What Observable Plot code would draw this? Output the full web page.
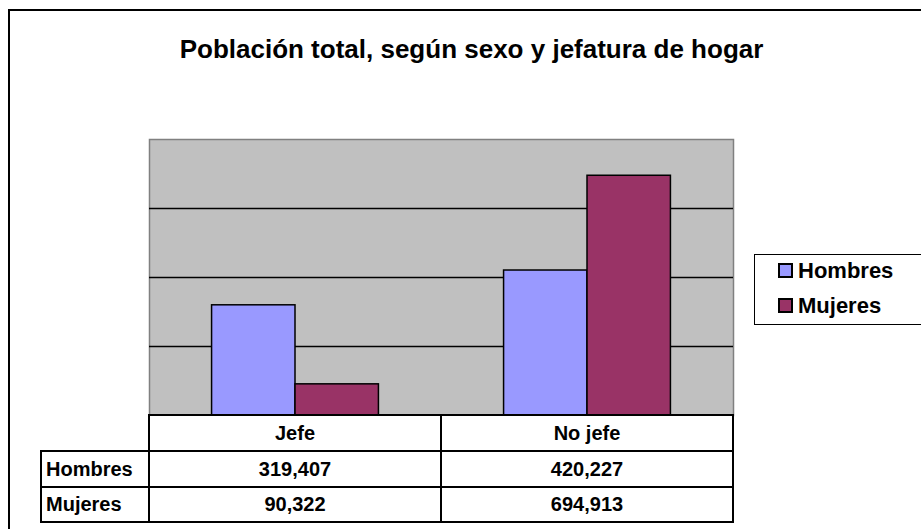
<!DOCTYPE html>
<html><head><meta charset="utf-8">
<script src="https://cdn.jsdelivr.net/npm/d3@7"></script>
<script src="https://cdn.jsdelivr.net/npm/@observablehq/plot@0.6"></script>
<style>
html,body{margin:0;padding:0;background:#fff;}
#chart{position:relative;width:921px;height:529px;overflow:hidden;font-family:"Liberation Sans",Arial,sans-serif;font-weight:bold;color:#000;}
#chart svg{position:absolute;left:0;top:0;}
.abs{position:absolute;}
.cell{position:absolute;box-sizing:border-box;border:2px solid #000;background:#fff;display:flex;align-items:center;justify-content:center;font-size:20px;white-space:nowrap;}
.cell.lab{justify-content:flex-start;padding-left:4px;}
</style></head><body><div id="chart"></div>
<script>
const title = "Población total, según sexo y jefatura de hogar";
const categories = ["Jefe", "No jefe"];
const series = ["Hombres", "Mujeres"];
const hombres = [319407, 420227];
const mujeres = [90322, 694913];
const colors = ["#9999FF", "#993366"];
const gridTicks = [200000, 400000, 600000];
const yMax = 800000;

const values = {Hombres: hombres, Mujeres: mujeres};
const rows = categories.flatMap((c, i) => series.map(s => ({category: c, sex: s, value: values[s][i]})));

const W = 921, H = 529, mL = 149, mR = 188, mT = 139, mB = 114;
const bw = (W - mL - mR) / categories.length;
const barW = bw / 3.5;
const inset = (bw - barW) / 2;

const plot = Plot.plot({
  width: W, height: H,
  marginLeft: mL, marginRight: mR, marginTop: mT, marginBottom: mB,
  style: {background: "white"},
  x: {domain: categories, padding: 0, axis: null},
  y: {domain: [0, yMax], axis: null},
  marks: [
    Plot.frame({fill: "#c0c0c0", stroke: "#808080", strokeWidth: 1.5}),
    Plot.ruleY(gridTicks, {stroke: "#000", strokeWidth: 1.6}),
    ...series.map((s, i) => Plot.barY(rows.filter(d => d.sex === s), {
      x: "category", y: "value", fill: colors[i], stroke: "#000", strokeWidth: 1.5,
      insetLeft: inset, insetRight: inset, dx: (i - 0.5) * barW
    })),
    Plot.ruleY([0], {stroke: "#000", strokeWidth: 2})
  ]
});
const chart = document.getElementById("chart");
chart.appendChild(plot);

function el(tag, cls, css, text) {
  const e = document.createElement(tag);
  if (cls) e.className = cls;
  Object.assign(e.style, css);
  if (text != null) e.textContent = text;
  chart.appendChild(e);
  return e;
}

// outer chart border (extends beyond the right and bottom of the picture)
el("div", "abs", {left: "8px", top: "9px", width: "1000px", height: "1000px", borderLeft: "2px solid #000", borderTop: "2px solid #000"});

// title
el("div", "abs", {left: "21px", width: "901px", top: "36px", fontSize: "26px", lineHeight: "26px", textAlign: "center"}, title);

// legend
el("div", "abs", {left: "754px", top: "254px", width: "300px", height: "71px", boxSizing: "border-box", border: "1.5px solid #000", background: "#fff"});
series.forEach((s, i) => {
  const top = 263 + i * 35;
  el("div", "abs", {left: "778px", top: top + "px", width: "15px", height: "15px", boxSizing: "border-box", border: "2px solid #000", background: colors[i]});
  el("div", "abs", {left: "798px", top: (top - 5) + "px", fontSize: "22px", lineHeight: "25px"}, s);
});

// data table
const xs = plot.scale("x");
const fmt = d3.format(",");
const colLines = [41, ...categories.map(c => xs.apply(c)), xs.apply(categories[categories.length - 1]) + xs.bandwidth];
const rowLines = [415, 451, 487, 522];
function cell(c0, c1, r0, r1, text, cls) {
  el("div", cls, {
    left: (colLines[c0] - 1) + "px", width: (colLines[c1] - colLines[c0] + 2) + "px",
    top: (rowLines[r0] - 1) + "px", height: (rowLines[r1] - rowLines[r0] + 2) + "px"
  }, text);
}
categories.forEach((c, j) => cell(j + 1, j + 2, 0, 1, c, "cell"));
series.forEach((s, i) => {
  cell(0, 1, i + 1, i + 2, s, "cell lab");
  categories.forEach((c, j) => cell(j + 1, j + 2, i + 1, i + 2, fmt(values[s][j]), "cell"));
});
</script></body></html>
